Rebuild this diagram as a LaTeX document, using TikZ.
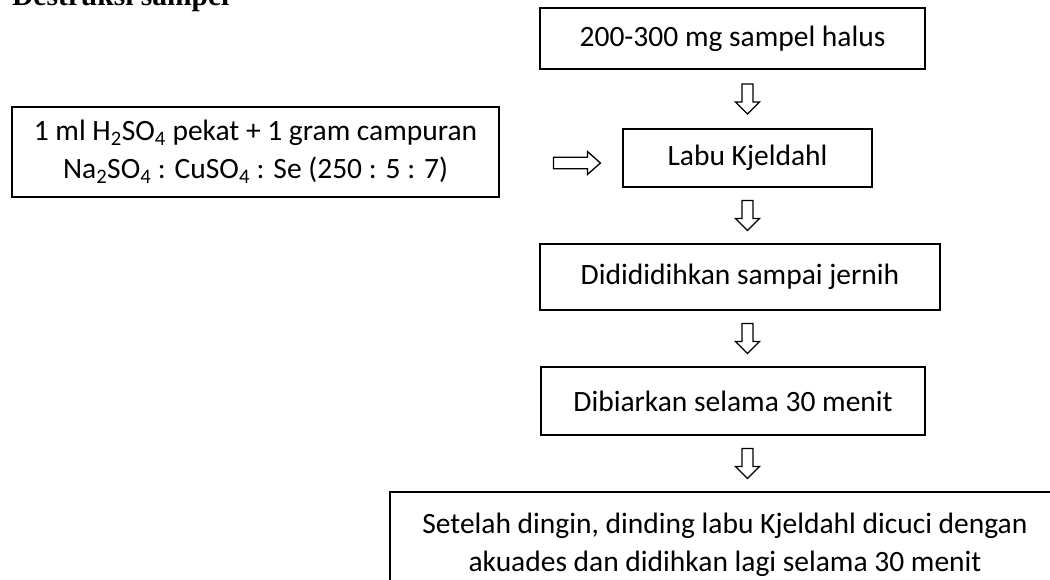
\documentclass[tikz,border=0pt]{standalone}
\usepackage{fontspec}
\setmainfont{Carlito}
\newfontfamily\titlefont{Liberation Serif}
\usetikzlibrary{calc}
\begin{document}
\begin{tikzpicture}[x=1pt,y=-1pt,
  box/.style={draw, line width=1.5pt, inner sep=0pt, align=center,
    font=\fontsize{29.5}{38}\selectfont},
  darr/.pic={\draw[line width=1.3pt, line join=miter]
    (-5.5,-15) -- (5.5,-15) -- (5.5,3) -- (12,3) -- (0,15) -- (-12,3) -- (-5.5,3) -- cycle;},
  rarr/.pic={\draw[line width=1.3pt, line join=miter]
    (-23.5,-5.8) -- (10.5,-5.8) -- (10.5,-11.5) -- (23.5,0) -- (10.5,11.5) -- (10.5,5.8) -- (-23.5,5.8) -- cycle;}]
\useasboundingbox (0,0) rectangle (1050,579);
\fill[white] (0,0) rectangle (1050,579);
\clip (0,0) rectangle (1050,579);

\node[anchor=base west, inner sep=0pt, font={\titlefont\bfseries\fontsize{29.5}{36}\selectfont}] (T) at (12,5) {Destruksi sampel};

\node[box, minimum width=385, minimum height=61] (A) at (732.5,38.5) {200-300 mg sampel halus};
\node[box, minimum width=487, minimum height=90] (B) at (255.5,152)
  {1 ml H\textsubscript{2}SO\textsubscript{4} pekat + 1 gram campuran\\
   Na\textsubscript{2}SO\textsubscript{4} : CuSO\textsubscript{4} : Se (250 : 5 : 7)};
\node[box, minimum width=249, minimum height=58] (C) at (747.5,158) {Labu Kjeldahl};
\node[box, minimum width=400, minimum height=66] (D) at (740,277) {Didididihkan sampai jernih};
\node[box, minimum width=384, minimum height=68] (E) at (733,401) {Dibiarkan selama 30 menit};
\node[box, minimum width=670, minimum height=105] (F) at (725,544.5)
  {Setelah dingin, dinding labu Kjeldahl dicuci dengan\\
   akuades dan didihkan lagi selama 30 menit};

\pic at ($(A.south -| C.center)!0.5!(C.north)$) {darr};
\pic at ($(C.south)!0.5!(D.north -| C.center)$) {darr};
\pic at ($(D.south -| C.center)!0.5!(E.north -| C.center)$) {darr};
\pic at ($(E.south -| C.center)!0.5!(F.north -| C.center)$) {darr};
\coordinate (rmid) at ($(B.east)!0.63!(C.west)$);
\pic at (rmid |- 0,163) {rarr};
\end{tikzpicture}
\end{document}
